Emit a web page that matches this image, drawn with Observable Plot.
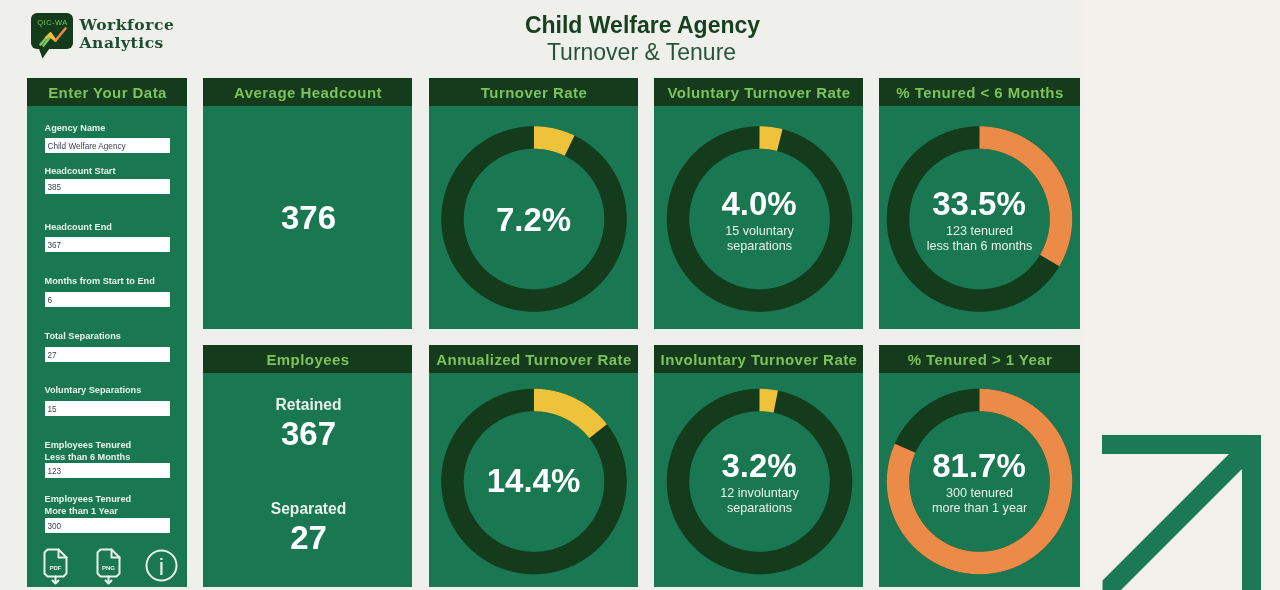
<!DOCTYPE html>
<html><head><meta charset="utf-8">
<script src="https://cdn.jsdelivr.net/npm/d3@7"></script>
<script src="https://cdn.jsdelivr.net/npm/@observablehq/plot@0.6"></script>
<style>
html,body{margin:0;padding:0;background:#f3f0ec;overflow:hidden}
svg{display:block;filter:blur(.5px)}
</style></head><body><div id="chart"></div>
<script>
// ---- values ----
const reportTitle = "Child Welfare Agency";
const reportSubtitle = "Turnover & Tenure";
const logoWords = ["Workforce", "Analytics"];
const gaugeTitles = ["Turnover Rate", "Annualized Turnover Rate", "Voluntary Turnover Rate", "Involuntary Turnover Rate", "% Tenured < 6 Months", "% Tenured > 1 Year"];
const gaugeValues = [7.2, 14.4, 4.0, 3.2, 33.5, 81.7];
const gaugeNotes = [[], [], ["15 voluntary", "separations"], ["12 involuntary", "separations"], ["123 tenured", "less than 6 months"], ["300 tenured", "more than 1 year"]];
const gaugeKinds = ["rate", "rate", "rate", "rate", "tenure", "tenure"];
const inputLabels = [["Agency Name"], ["Headcount Start"], ["Headcount End"], ["Months from Start to End"], ["Total Separations"], ["Voluntary Separations"], ["Employees Tenured", "Less than 6 Months"], ["Employees Tenured", "More than 1 Year"]];
const inputValues = ["Child Welfare Agency", "385", "367", "6", "27", "15", "123", "300"];
const averageHeadcount = 376;
const retained = 367;
const separated = 27;

// ---- layout and style (pixel space of the page) ----
const C = {green:"#197752", dark:"#133b1c", head:"#7fc25c", paper:"#efefeb", white:"#ffffff", soft:"#eaf1ec", yellow:"#efc23c", orange:"#ec8a47", ink:"#17401f", arrow:"#1b7a55", input:"#3b3f52"};
const kindColor = {rate:C.yellow, tenure:C.orange};
const columns = [[203,412],[429,638],[654,863],[879,1080]];
const rows = [[78,329],[345,587]];
const headH = 28;
const ringCx = [533.5, 759, 979], ringCy = [218.5, 481];
const ringR = 81.5, ringW = 22.5;
const inputBaselines = [[130],[173],[229],[283],[338],[392],[447,459],[501,513]];
const inputTops = [138,179,237,292,347,401,463,518];

// panels
const panels = [{x1:27,x2:187,y1:78,y2:587,t:"Enter Your Data"}];
columns.forEach((c,i)=>rows.forEach((r,j)=>{ panels.push({x1:c[0],x2:c[1],y1:r[0],y2:r[1],
  t: i===0 ? (j===0?"Average Headcount":"Employees") : gaugeTitles[(i-1)*2+j]}); }));

// gauges: value mapped to an angle through a d3 scale
const angle = d3.scaleLinear([0,100],[0,2*Math.PI]);
const gauges = gaugeValues.map((v,k)=>({v,k,cx:ringCx[Math.floor(k/2)],cy:ringCy[k%2],color:kindColor[gaugeKinds[k]],note:gaugeNotes[k],title:gaugeTitles[k]}));
const arcPts = (g,share,id,color)=>d3.range(0,share+1e-6,.1).concat(share).map(p=>({id,color,x:g.cx+ringR*Math.sin(angle(p)),y:g.cy-ringR*Math.cos(angle(p))}));
const tracks = gauges.flatMap(g=>arcPts(g,100,"t"+g.k,C.dark));
const wedges = gauges.flatMap(g=>arcPts(g,g.v,"w"+g.k,g.color));

// text tables
const bold = [], regular = [];
gauges.forEach(g=>{
  const hasNote = g.note.length>0;
  const y = g.k%2===0 ? (hasNote?214.5:230) : (hasNote?476.5:491);
  bold.push({x:g.cx-0.5,y,text:g.v.toFixed(1)+"%",size:33,fill:C.white});
  g.note.forEach((n,i)=>regular.push({x:g.cx,y:y+20+i*15,text:n,size:12.6,fill:C.soft}));
});
bold.push({x:308,y:228,text:String(averageHeadcount),size:33,fill:C.white},
  {x:308,y:409,text:"Retained",size:15.6,fill:C.soft},{x:308,y:444,text:String(retained),size:33,fill:C.white},
  {x:308,y:513,text:"Separated",size:15.6,fill:C.soft},{x:308,y:548,text:String(separated),size:33,fill:C.white});
const sideLabels = inputLabels.flatMap((ls,i)=>ls.map((t,j)=>({x:44,y:inputBaselines[i][j],text:t})));
const inputBoxes = inputTops.map((y,i)=>({y,text:inputValues[i]}));

// decorations
const docs = [{x:44,t:"PDF"},{x:97,t:"PNG"}];
const docLines = docs.flatMap((d,n)=>[
  [[3,0],[14,0],[22,8],[22,24],[19,27],[3,27],[0,24],[0,3],[3,0]],
  [[14,0],[14,8],[22,8]],
  [[11,27],[11,33]],
  [[8,31],[11,34],[14,31]]
].flatMap((seg,s)=>seg.map(([dx,dy])=>({id:n+"-"+s,x:d.x+dx,y:549+dy}))));
const arrowDiagonal = [[1102,580],[1228,454],[1228,450],[1246,450],[1246,468],[1242,468],[1120,590],[1102,590]].map(([x,y])=>({x,y}));
const bubble = [[38,47],[42,58],[49,48]].map(([x,y])=>({x,y}));
const zig = [
  {c:"#7fc25c",p:[[40,44],[46,37]]},{c:"#7fc25c",p:[[43,45],[50,36]]},
  {c:"#e9c23c",p:[[46,37],[50,33],[55,40]]},{c:"#e9c23c",p:[[50,36],[55,40]]},
  {c:"#ec8a47",p:[[55,40],[65,28]]}
].flatMap((s,i)=>s.p.map(([x,y])=>({id:i,c:s.c,x,y})));

const sans = "'Liberation Sans', Arial, sans-serif";
const chart = Plot.plot({
  width:1280, height:590, margin:0,
  x:{domain:[0,1280],range:[0,1280],axis:null},
  y:{domain:[0,590],range:[0,590],axis:null},
  style:{background:"transparent"},
  marks:[
    Plot.rect([{}],{x1:()=>0,x2:()=>1083,y1:()=>0,y2:()=>590,fill:C.paper}),
    // panels + header bars
    Plot.rect(panels,{x1:"x1",x2:"x2",y1:"y1",y2:"y2",fill:C.green}),
    Plot.rect(panels,{x1:"x1",x2:"x2",y1:"y1",y2:d=>d.y1+headH,fill:C.dark}),
    Plot.text(panels,{x:d=>(d.x1+d.x2)/2,y:d=>d.y1+19,text:"t",fill:C.head,fontSize:15,fontWeight:"bold",fontFamily:sans,lineAnchor:"bottom"}),
    // gauges
    Plot.line(tracks,{x:"x",y:"y",z:"id",stroke:"color",strokeWidth:ringW,strokeLinecap:"butt",strokeLinejoin:"round"}),
    Plot.line(wedges,{x:"x",y:"y",z:"id",stroke:"color",strokeWidth:ringW,strokeLinecap:"butt",strokeLinejoin:"round"}),
    Plot.text(bold,{x:"x",y:"y",text:"text",fontSize:"size",fill:"fill",fontWeight:"bold",fontFamily:sans,lineAnchor:"bottom"}),
    Plot.text(regular,{x:"x",y:"y",text:"text",fontSize:"size",fill:"fill",fontFamily:sans,lineAnchor:"bottom"}),
    // sidebar
    Plot.text(sideLabels,{x:"x",y:"y",text:"text",fontSize:9.2,fontWeight:"bold",fill:C.soft,textAnchor:"start",fontFamily:sans,lineAnchor:"bottom"}),
    Plot.rect(inputBoxes,{x1:()=>45,x2:()=>170,y1:"y",y2:d=>d.y+15,fill:C.white}),
    Plot.text(inputBoxes,{x:()=>47,y:d=>d.y+10.5,text:"text",fontSize:8.2,fill:C.input,textAnchor:"start",fontFamily:sans,lineAnchor:"bottom"}),
    Plot.line(docLines,{x:"x",y:"y",z:"id",stroke:C.soft,strokeWidth:2,strokeLinejoin:"round"}),
    Plot.text(docs,{x:d=>d.x+11,y:()=>569,text:"t",fontSize:6,fontWeight:"bold",fill:C.soft,fontFamily:sans,lineAnchor:"bottom"}),
    Plot.dot([{}],{x:()=>161,y:()=>565,r:15,stroke:C.soft,strokeWidth:2,fill:"none"}),
    Plot.text([{}],{x:()=>161,y:()=>574,text:()=>"i",fontSize:24,fill:C.soft,fontFamily:sans,lineAnchor:"bottom"}),
    // title block
    Plot.text([reportTitle],{x:()=>642,y:()=>32,text:d=>d,fontSize:23,fontWeight:"bold",fill:C.ink,fontFamily:sans,lineAnchor:"bottom"}),
    Plot.text([reportSubtitle],{x:()=>641,y:()=>59.5,text:d=>d,fontSize:23,fill:"#27553a",fontFamily:sans,lineAnchor:"bottom"}),
    // logo
    Plot.rect([{}],{x1:()=>31,x2:()=>73,y1:()=>13,y2:()=>49,rx:6,fill:C.dark}),
    Plot.line(bubble,{x:"x",y:"y",fill:C.dark,stroke:"none"}),
    Plot.text(["QIC-WA"],{x:()=>52,y:()=>24.5,text:d=>d,fontSize:7.5,fill:C.head,fontFamily:sans,lineAnchor:"bottom"}),
    Plot.line(zig,{x:"x",y:"y",z:"id",stroke:"c",strokeWidth:2.6}),
    Plot.text([logoWords[0]],{x:()=>79,y:()=>29.5,text:d=>d,fontSize:15.5,fontWeight:"bold",fill:"#1c4d2e",textAnchor:"start",fontFamily:"'DejaVu Serif', serif",lineAnchor:"bottom"}),
    Plot.text([logoWords[1]],{x:()=>79,y:()=>47,text:d=>d,fontSize:15.5,fontWeight:"bold",fill:"#1c4d2e",textAnchor:"start",fontFamily:"'DejaVu Serif', serif",lineAnchor:"bottom"}),
    // arrow
    Plot.rect([{}],{x1:()=>1102,x2:()=>1261,y1:()=>435,y2:()=>454,fill:C.arrow}),
    Plot.rect([{}],{x1:()=>1242,x2:()=>1261,y1:()=>435,y2:()=>590,fill:C.arrow}),
    Plot.line(arrowDiagonal,{x:"x",y:"y",fill:C.arrow,stroke:"none"})
  ]
});
d3.select(chart).selectAll(`g[fill="${C.head}"]`).style("letter-spacing",".45px");
d3.select(chart).selectAll(`g[font-family*="DejaVu"]`).style("letter-spacing",".55px");
document.getElementById("chart").append(chart);
</script></body></html>
